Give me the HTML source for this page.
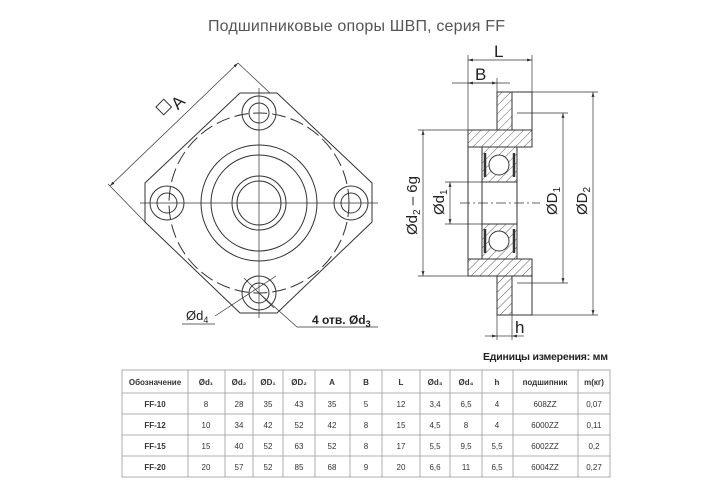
<!DOCTYPE html>
<html><head><meta charset="utf-8"><style>
html,body{margin:0;padding:0;background:#fff;width:723px;height:482px;overflow:hidden}
svg{display:block}
text{font-family:"Liberation Sans","DejaVu Sans",sans-serif}
</style></head><body>
<svg width="723" height="482" viewBox="0 0 723 482" xmlns="http://www.w3.org/2000/svg">
<defs>
<pattern id="h" width="6" height="6" patternUnits="userSpaceOnUse" patternTransform="rotate(45)">
<line x1="0" y1="0" x2="0" y2="6" stroke="#333" stroke-width="0.8"/></pattern>
<marker id="a" viewBox="0 0 10 10" refX="10" refY="5" markerWidth="7" markerHeight="7" orient="auto-start-reverse"><path d="M0,2 L10,5 L0,8z" fill="#333"/></marker>
</defs>
<text x="208" y="31" font-size="16" fill="#555" textLength="297">Подшипниковые опоры ШВП, серия FF</text>

<!-- LEFT VIEW -->
<g stroke="#333" fill="none" stroke-width="1">
<polygon points="240,93 277,93 372,183 372,222 277,313 240,313 145,222 145,183"/>
<circle cx="259" cy="203" r="90" stroke-dasharray="14,5"/>
<circle cx="259" cy="203" r="58"/>
<circle cx="259" cy="203" r="48"/>
<circle cx="259" cy="203" r="27"/>
<circle cx="259" cy="203" r="22"/>
<circle cx="259" cy="113" r="17"/><circle cx="259" cy="113" r="10"/>
<circle cx="167" cy="203" r="17"/><circle cx="167" cy="203" r="10"/>
<circle cx="351" cy="203" r="17"/><circle cx="351" cy="203" r="10"/>
<circle cx="259" cy="293" r="17"/><circle cx="259" cy="293" r="10"/>
<g stroke-width="0.7">
<line x1="140" y1="203" x2="378" y2="203"/>
<line x1="259" y1="88" x2="259" y2="318"/>
<line x1="108" y1="184" x2="145" y2="222"/>
<line x1="238" y1="63" x2="270" y2="93"/>
<line x1="110" y1="186" x2="238" y2="63" marker-start="url(#a)" marker-end="url(#a)"/>
<line x1="244" y1="278" x2="274" y2="308"/>
<line x1="215" y1="316" x2="276" y2="276"/>
<line x1="182" y1="324" x2="215" y2="324"/>
<line x1="259" y1="293" x2="297" y2="327"/>
<line x1="297" y1="327" x2="378" y2="327"/>
</g>
</g>
<rect x="158" y="102" width="11" height="11" fill="none" stroke="#333" transform="rotate(-45 163 107)"/>
<text x="172" y="108" font-size="17" fill="#222" transform="rotate(-45 178 102)">A</text>
<text x="186" y="320" font-size="13" fill="#222">Ød<tspan font-size="9" dy="3">4</tspan></text>
<text x="312" y="324" font-size="12" font-weight="bold" fill="#222">4 отв.  Ød<tspan font-size="9" dy="3">3</tspan></text>

<!-- RIGHT VIEW -->
<g stroke="#333" stroke-width="1">
<path d="M497,92 L532,92 L532,130 L512,130 L512,92" fill="none"/>
<rect x="497" y="92" width="15" height="38" fill="url(#h)"/>
<rect x="497" y="276" width="15" height="39" fill="url(#h)"/>
<path d="M512,276 L532,276 L532,315 L512,315" fill="none"/>
<rect x="468" y="130" width="64" height="17" fill="url(#h)"/>
<rect x="468" y="259" width="64" height="17" fill="url(#h)"/>
<rect x="482" y="147" width="35" height="35" fill="url(#h)"/>
<rect x="482" y="224" width="35" height="35" fill="url(#h)"/>
<circle cx="499" cy="165" r="10" fill="#fff"/>
<circle cx="499" cy="241" r="10" fill="#fff"/>
<line x1="468" y1="147" x2="468" y2="259"/>
<line x1="482" y1="182" x2="517" y2="182"/>
<line x1="482" y1="224" x2="517" y2="224"/>
<line x1="482" y1="147" x2="482" y2="259"/>
<line x1="517" y1="147" x2="517" y2="259"/>
<line x1="485" y1="153" x2="485" y2="177" stroke-width="2.5"/>
<line x1="514" y1="153" x2="514" y2="177" stroke-width="2.5"/>
<line x1="485" y1="229" x2="485" y2="253" stroke-width="2.5"/>
<line x1="514" y1="229" x2="514" y2="253" stroke-width="2.5"/>
</g>
<g stroke="#333" stroke-width="0.7" fill="none">
<line x1="460" y1="203" x2="540" y2="203" stroke-dasharray="10,3,2,3"/>
<line x1="468" y1="55" x2="468" y2="130"/>
<line x1="532" y1="55" x2="532" y2="92"/>
<line x1="497" y1="78" x2="497" y2="92"/>
<line x1="468" y1="60" x2="532" y2="60" marker-start="url(#a)" marker-end="url(#a)"/>
<line x1="452" y1="83" x2="510" y2="83"/>
<line x1="468" y1="83" x2="497" y2="83" marker-start="url(#a)" marker-end="url(#a)"/>
<line x1="418" y1="130" x2="468" y2="130"/><line x1="418" y1="276" x2="468" y2="276"/>
<line x1="423" y1="130" x2="423" y2="276" marker-start="url(#a)" marker-end="url(#a)"/>
<line x1="445" y1="182" x2="482" y2="182"/><line x1="445" y1="224" x2="482" y2="224"/>
<line x1="450" y1="182" x2="450" y2="224" marker-start="url(#a)" marker-end="url(#a)"/>
<line x1="517" y1="113" x2="568" y2="113"/><line x1="517" y1="283" x2="568" y2="283"/>
<line x1="563" y1="113" x2="563" y2="283" marker-start="url(#a)" marker-end="url(#a)"/>
<line x1="532" y1="92" x2="598" y2="92"/><line x1="532" y1="315" x2="598" y2="315"/>
<line x1="593" y1="92" x2="593" y2="315" marker-start="url(#a)" marker-end="url(#a)"/>
<line x1="497" y1="315" x2="497" y2="340"/><line x1="512" y1="315" x2="512" y2="340"/>
<line x1="485" y1="336" x2="497" y2="336" marker-end="url(#a)"/>
<line x1="524" y1="336" x2="512" y2="336" marker-end="url(#a)"/>
<line x1="497" y1="336" x2="512" y2="336"/>
</g>
<text x="494" y="57" font-size="17" fill="#222">L</text>
<text x="475" y="80" font-size="17" fill="#222">B</text>
<text x="515" y="333" font-size="17" fill="#222">h</text>
<text transform="translate(417 235) rotate(-90)" font-size="15" fill="#222">Ød<tspan font-size="10" dy="3">2</tspan><tspan dy="-3"> – 6g</tspan></text>
<text transform="translate(444 215) rotate(-90)" font-size="15" fill="#222">Ød<tspan font-size="10" dy="3">1</tspan></text>
<text transform="translate(557 215) rotate(-90)" font-size="15" fill="#222">ØD<tspan font-size="10" dy="3">1</tspan></text>
<text transform="translate(587 215) rotate(-90)" font-size="15" fill="#222">ØD<tspan font-size="10" dy="3">2</tspan></text>

<text x="483" y="360" font-size="10.5" font-weight="bold" fill="#222" textLength="125">Единицы измерения: мм</text>

<!-- TABLE -->
<g stroke="#999" stroke-width="0.8" fill="none">
<rect x="122" y="370" width="488" height="107"/>
<line x1="122" y1="393" x2="610" y2="393"/>
<line x1="122" y1="414" x2="610" y2="414"/>
<line x1="122" y1="435" x2="610" y2="435"/>
<line x1="122" y1="456" x2="610" y2="456"/>
<line x1="188" y1="370" x2="188" y2="477"/><line x1="225" y1="370" x2="225" y2="477"/>
<line x1="253" y1="370" x2="253" y2="477"/><line x1="283" y1="370" x2="283" y2="477"/>
<line x1="315" y1="370" x2="315" y2="477"/><line x1="350" y1="370" x2="350" y2="477"/>
<line x1="382" y1="370" x2="382" y2="477"/><line x1="420" y1="370" x2="420" y2="477"/>
<line x1="450" y1="370" x2="450" y2="477"/><line x1="482" y1="370" x2="482" y2="477"/>
<line x1="513" y1="370" x2="513" y2="477"/><line x1="578" y1="370" x2="578" y2="477"/>
</g>
<g font-size="8" fill="#333" text-anchor="middle">
<g font-weight="bold">
<text x="155" y="385">Обозначение</text><text x="206" y="385">Ød₁</text><text x="239" y="385">Ød₂</text>
<text x="268" y="385">ØD₁</text><text x="299" y="385">ØD₂</text><text x="332" y="385">A</text>
<text x="366" y="385">B</text><text x="401" y="385">L</text><text x="435" y="385">Ød₃</text>
<text x="466" y="385">Ød₄</text><text x="497" y="385">h</text><text x="545" y="385">подшипник</text>
<text x="594" y="385">m(кг)</text>
<text x="155" y="407">FF-10</text><text x="155" y="428">FF-12</text><text x="155" y="449">FF-15</text><text x="155" y="470">FF-20</text>
</g>
<g>
<text x="206" y="407">8</text><text x="239" y="407">28</text><text x="268" y="407">35</text><text x="299" y="407">43</text><text x="332" y="407">35</text><text x="366" y="407">5</text><text x="401" y="407">12</text><text x="435" y="407">3,4</text><text x="466" y="407">6,5</text><text x="497" y="407">4</text><text x="545" y="407">608ZZ</text><text x="594" y="407">0,07</text>
<text x="206" y="428">10</text><text x="239" y="428">34</text><text x="268" y="428">42</text><text x="299" y="428">52</text><text x="332" y="428">42</text><text x="366" y="428">8</text><text x="401" y="428">15</text><text x="435" y="428">4,5</text><text x="466" y="428">8</text><text x="497" y="428">4</text><text x="545" y="428">6000ZZ</text><text x="594" y="428">0,11</text>
<text x="206" y="449">15</text><text x="239" y="449">40</text><text x="268" y="449">52</text><text x="299" y="449">63</text><text x="332" y="449">52</text><text x="366" y="449">8</text><text x="401" y="449">17</text><text x="435" y="449">5,5</text><text x="466" y="449">9,5</text><text x="497" y="449">5,5</text><text x="545" y="449">6002ZZ</text><text x="594" y="449">0,2</text>
<text x="206" y="470">20</text><text x="239" y="470">57</text><text x="268" y="470">52</text><text x="299" y="470">85</text><text x="332" y="470">68</text><text x="366" y="470">9</text><text x="401" y="470">20</text><text x="435" y="470">6,6</text><text x="466" y="470">11</text><text x="497" y="470">6,5</text><text x="545" y="470">6004ZZ</text><text x="594" y="470">0,27</text>
</g>
</g>
</svg>
</body></html>
